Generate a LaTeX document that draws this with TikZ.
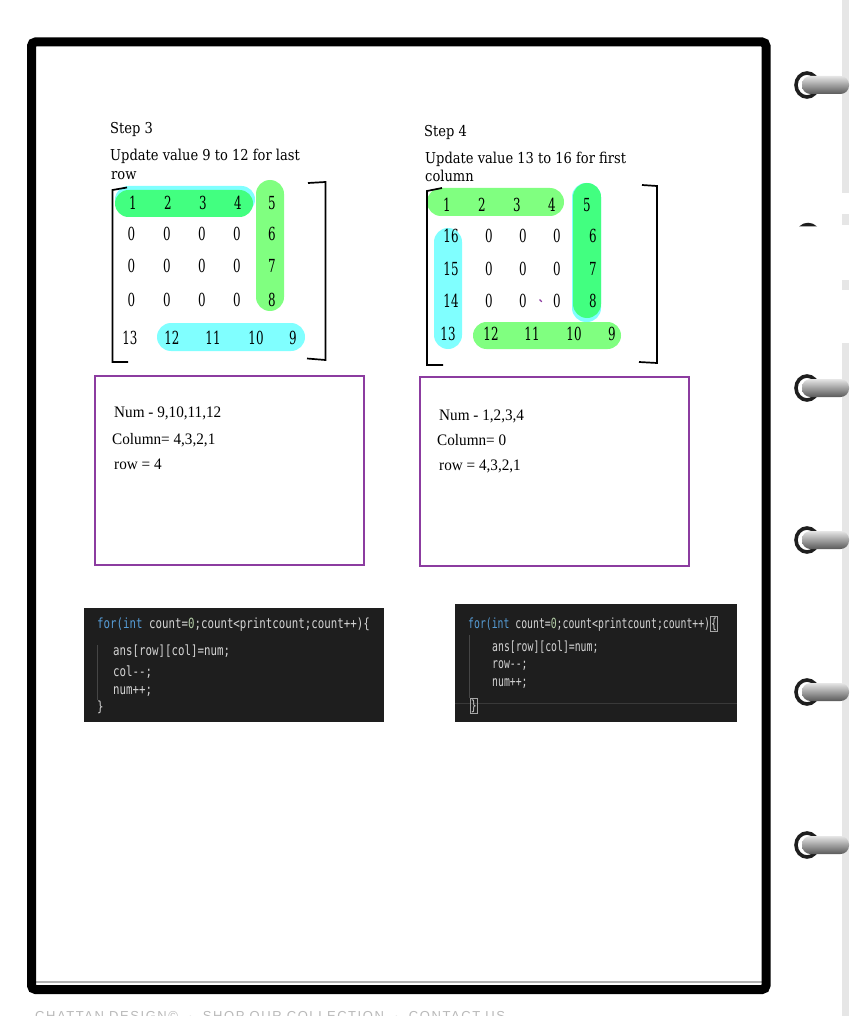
\documentclass[tikz,border=0pt]{standalone}
\usepackage{fontspec}
\newfontfamily\tw[FakeStretch=0.87]{DejaVu Serif}
\newfontfamily\twn[FakeStretch=0.66]{DejaVu Serif}
\newfontfamily\bxf[FakeStretch=0.95]{Liberation Serif}
\newfontfamily\cdL[FakeStretch=0.77]{DejaVu Sans Mono}
\newfontfamily\cdR[FakeStretch=0.70]{DejaVu Sans Mono}
\newfontfamily\ftf[LetterSpace=12]{Liberation Sans}
\definecolor{grnA}{RGB}{66,255,128}
\definecolor{grnB}{RGB}{128,255,128}
\definecolor{cyanC}{RGB}{128,255,255}
\definecolor{boxc}{RGB}{140,60,160}
\definecolor{codebg}{RGB}{30,30,30}
\definecolor{kw}{RGB}{86,156,214}
\definecolor{numc}{RGB}{181,206,168}
\definecolor{codetx}{RGB}{212,212,212}
\definecolor{guide}{RGB}{70,70,70}
\definecolor{ringc}{RGB}{30,30,30}
\definecolor{stripc}{RGB}{230,230,230}
\newcommand\spiralring[2]{%
  \draw[ringc, line width=3.6] (807,#1) ellipse [x radius=11, y radius=12];
  \shade[top color=gray!20, middle color=gray!50, bottom color=gray!70!black, rounded corners=8.5] (802,#1-9) rectangle (849,#1+9);
  \coordinate (#2) at (807,#1);
}
\tikzset{
  steptxt/.style={anchor=base west, inner sep=0, font=\tw\fontsize{15}{17}\selectfont},
  mnum/.style={inner sep=0, font=\twn\fontsize{18}{20}\selectfont},
  boxtxt/.style={anchor=base west, inner sep=0, font=\bxf\fontsize{16}{18}\selectfont},
  codeL/.style={anchor=base west, inner sep=0, text=codetx, font=\cdL\fontsize{14}{16}\selectfont},
  codeR/.style={anchor=base west, inner sep=0, text=codetx, font=\cdR\fontsize{14}{16}\selectfont},
  infobox/.style={draw=boxc, line width=1.8},
  bracket/.style={line width=1.7, line join=miter},
}
\begin{document}
\begin{tikzpicture}[x=1pt,y=-1pt]
\useasboundingbox (0,0) rectangle (849,1016);
\fill[white] (0,0) rectangle (849,1016);
% right gray strip
\fill[stripc] (842,0) rectangle (849,193);
\fill[stripc] (842,214) rectangle (849,225);
\fill[stripc] (842,280) rectangle (849,290);
\fill[stripc] (842,343) rectangle (849,1016);
% page frame
\draw[gray!60, line width=1.5] (36,982) -- (762,982);
\draw[black, line width=9, rounded corners=4] (31.5,42) rectangle (766,989.5);
% spiral rings
\spiralring{85}{r1}
\spiralring{388}{r2}
\spiralring{540}{r3}
\spiralring{692}{r4}
\spiralring{845}{r5}
\fill[ringc] (799,226.5) .. controls (804,221.5) and (812,221.5) .. (817,226.5) -- cycle;
% footer (cut by the lower edge, as in the reference)
\node[anchor=north west, inner sep=0, text=gray!55, font=\ftf\fontsize{13}{13}\selectfont] (foot) at (35,1011) {CHATTAN DESIGN\textcopyright\ \ ·\ \ SHOP OUR COLLECTION\ \ ·\ \ CONTACT US};

% ---------- Step 3 ----------
\node[steptxt] (s3) at (110,134) {Step 3};
\node[steptxt] (u3a) at (110,160.5) {Update value 9 to 12 for last};
\node[steptxt] (u3b) at (111,179.5) {row};
\fill[cyanC, rounded corners=13.5] (115,186) rectangle (255,213);
\fill[grnA, rounded corners=13.5] (115,190) rectangle (253,217);
\fill[grnB, rounded corners=14] (256,180) rectangle (284,311);
\fill[cyanC, rounded corners=14] (157,323) rectangle (305,351);
\draw[bracket] (127,187.5) -- (112.5,190) -- (112.5,362) -- (128,362);
\draw[bracket] (308,183) -- (325.5,182) -- (325.5,360) -- (307,358.5);
\foreach \x/\t [count=\c] in {133/1,168/2,203/3,238/4,272/5}
  \node[mnum] (L1\c) at (\x,203) {\t};
\foreach \y/\r/\e in {234/2/6,266/3/7,300/4/8}{
  \foreach \x [count=\c] in {131.5,167,202,237}
    \node[mnum] (L\r\c) at (\x,\y) {0};
  \node[mnum] (L\r5) at (272,\y) {\e};
}
\foreach \x/\t [count=\c] in {130/13,172/12,213/11,256/10,293/9}
  \node[mnum] (L5\c) at (\x,338) {\t};

% ---------- Step 4 ----------
\node[steptxt] (s4) at (424,137) {Step 4};
\node[steptxt] (u4a) at (425,163.5) {Update value 13 to 16 for first};
\node[steptxt] (u4b) at (425,182) {column};
\fill[grnB, rounded corners=14] (427,188) rectangle (564,216);
\fill[cyanC, rounded corners=14] (572,183) rectangle (601,322);
\fill[grnA, rounded corners=14] (573,183) rectangle (601,318);
\fill[cyanC, rounded corners=14] (434,228) rectangle (462,349);
\fill[grnB, rounded corners=13.5] (473,322) rectangle (621,349);
\draw[bracket] (442,188) -- (427,191) -- (427,365) -- (443,365);
\draw[bracket] (642,185) -- (657,186) -- (657,363) -- (639,362);
\foreach \x/\t [count=\c] in {447/1,482/2,517/3,552/4,587/5}
  \node[mnum] (R1\c) at (\x,205) {\t};
\foreach \y/\r/\s/\e in {236/2/16/6,269/3/15/7,301/4/14/8}{
  \node[mnum] (R\r1) at (451,\y) {\s};
  \foreach \x [count=\c from 2] in {489,523,557}
    \node[mnum] (R\r\c) at (\x,\y) {0};
  \node[mnum] (R\r5) at (593,\y) {\e};
}
\foreach \x/\t [count=\c] in {448/13,491/12,532/11,574/10,612/9}
  \node[mnum] (R5\c) at (\x,334) {\t};
\draw[boxc, line width=1.2] (539.5,299.5) -- (541.8,301.8);

% ---------- info boxes ----------
\draw[infobox] (95,376) rectangle (364,565);
\node[boxtxt] (b3a) at (114,417.5) {Num - 9,10,11,12};
\node[boxtxt] (b3b) at (112,444) {Column= 4,3,2,1};
\node[boxtxt] (b3c) at (114,469) {row = 4};
\draw[infobox] (420,377) rectangle (689,566);
\node[boxtxt] (b4a) at (439,420) {Num - 1,2,3,4};
\node[boxtxt] (b4b) at (437,445.5) {Column= 0};
\node[boxtxt] (b4c) at (439,470) {row = 4,3,2,1};

% ---------- code blocks ----------
\fill[codebg] (84,608) rectangle (384,722);
\draw[guide, line width=0.8] (97,645) -- (97,700);
\node[codeL] (cl1) at (97,628) {\textcolor{kw}{for(int} count=\textcolor{numc}{0};count<printcount;count++)\{};
\node[codeL] (cl2) at (113,655) {ans[row][col]=num;};
\node[codeL] (cl3) at (113,676) {col-{}-;};
\node[codeL] (cl4) at (113,694) {num++;};
\node[codeL] (cl5) at (97,711) {\}};

\fill[codebg] (455,604) rectangle (737,722);
\draw[guide, line width=0.8] (469,635) -- (469,698);
\draw[gray!45!black, line width=0.8] (455,703) -- (737,703);
\node[codeR] (cr1) at (468,628) {\textcolor{kw}{for(int} count=\textcolor{numc}{0};count<printcount;count++)};
\node[codeR, anchor=base west, draw=gray!70, line width=0.6, inner sep=0.6] (cr1b) at (cr1.base east) {\{};
\node[codeR] (cr2) at (492,651) {ans[row][col]=num;};
\node[codeR] (cr3) at (492,668) {row-{}-;};
\node[codeR] (cr4) at (492,686) {num++;};
\node[codeR, draw=gray!70, line width=0.6, inner sep=0.6] (cr5) at (470,710) {\}};
\end{tikzpicture}
\end{document}
